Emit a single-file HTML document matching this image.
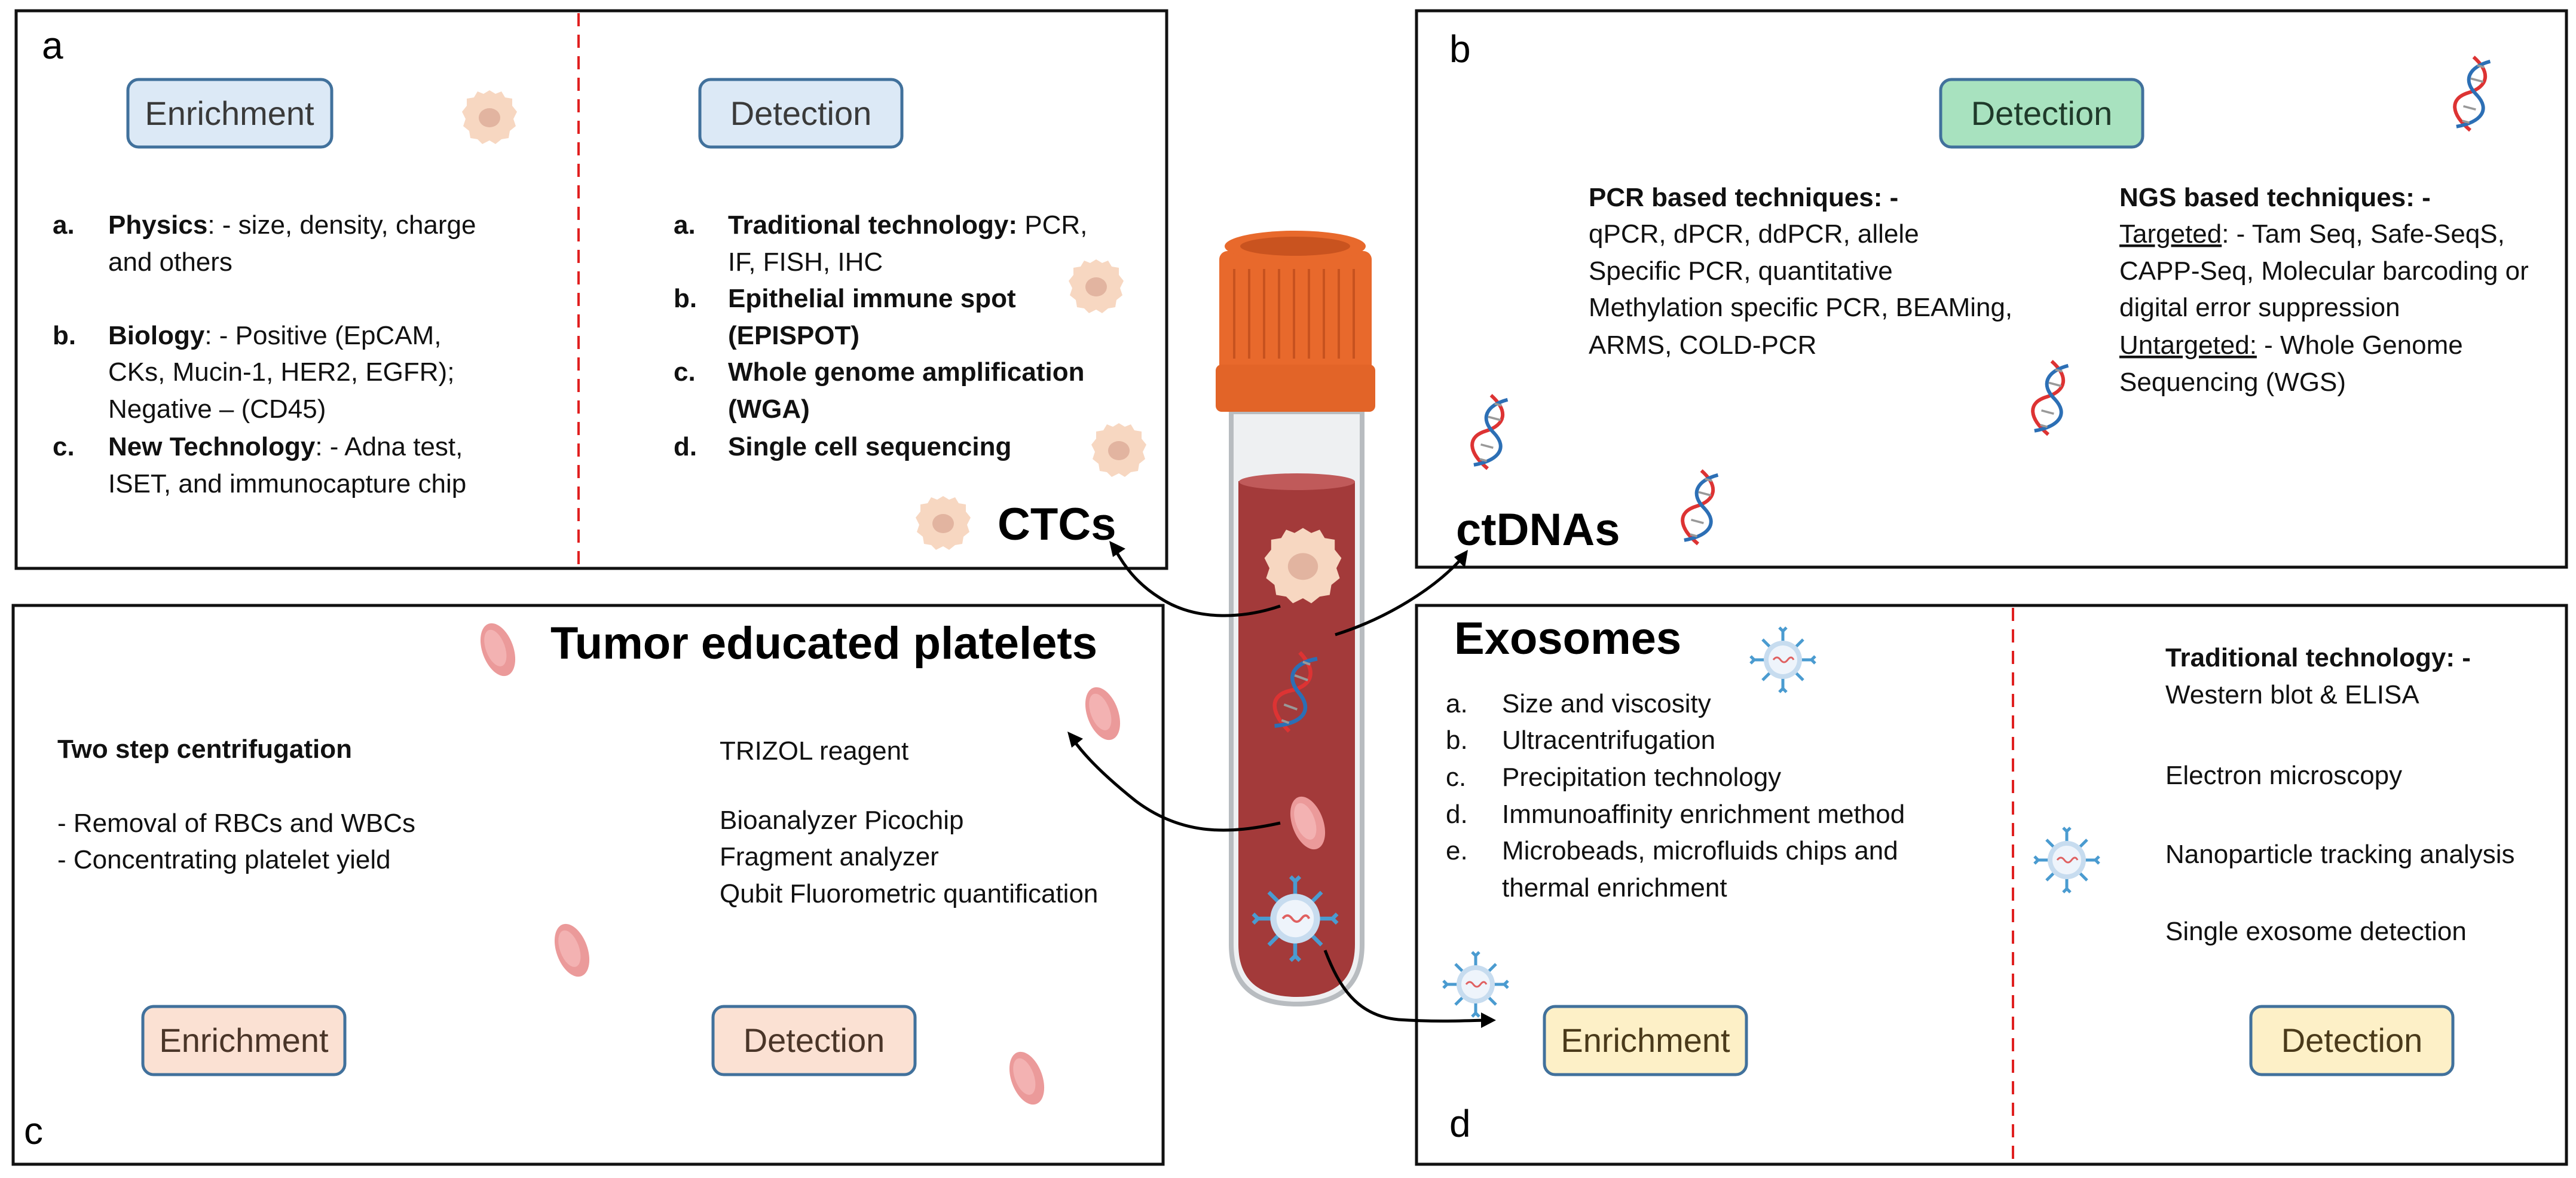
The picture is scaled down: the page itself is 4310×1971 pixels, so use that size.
<!DOCTYPE html>
<html><head><meta charset="utf-8"><style>
html,body{margin:0;padding:0;background:#fff;}
svg{display:block;}
text{font-family:"Liberation Sans",sans-serif;fill:#111;}
.t{font-size:44px;}
.b{font-weight:bold;}
.btn{font-size:56px;fill:#3a3a3a;}
.big{font-size:76px;font-weight:bold;fill:#000;}
.lab{font-size:64px;fill:#000;}
</style></head><body>
<svg width="4310" height="1971" viewBox="0 0 4310 1971" xmlns="http://www.w3.org/2000/svg">
<defs>
<g id="cell"><path d="M0,-44 L10,-38 L20,-42 L26,-32 L38,-30 L38,-18 L46,-8 L40,4 L44,16 L34,24 L32,36 L20,38 L10,46 L0,40 L-12,46 L-20,38 L-32,36 L-34,24 L-44,16 L-40,4 L-46,-8 L-38,-18 L-38,-30 L-26,-32 L-20,-42 L-10,-38 Z" fill="#f7d7c1"/><ellipse cx="0" cy="2" rx="18" ry="16" fill="#e2b4a0"/></g>
<g id="plt"><ellipse cx="0" cy="0" rx="26" ry="46" fill="#eb9a9a" transform="rotate(-20)"/><ellipse cx="-3" cy="-4" rx="16" ry="32" fill="#f3b2b2" transform="rotate(-20)"/></g>
<g id="dna0" fill="none" stroke-width="5"><path d="M-12,-50 C18,-35 18,-15 -6,0 C-30,15 -22,35 10,50" stroke="#d33"/><path d="M12,-50 C-14,-35 -20,-15 6,0 C30,15 22,35 -10,50" stroke="#2c6fb5"/><path d="M-4,-40 L6,-40 M-8,-20 L10,-20 M-8,20 L10,20 M-4,40 L6,40" stroke="#999" stroke-width="3"/></g>
<g id="dna"><use href="#dna0" transform="scale(1.2) rotate(15)"/></g>
<g id="exo"><g stroke="#4a9bd0" stroke-width="5" fill="none"><path d="M0,-30 L0,-48 M-6,-54 L0,-48 L6,-54 M30,0 L48,0 M54,-6 L48,0 L54,6 M0,30 L0,48 M-6,54 L0,48 L6,54 M-30,0 L-48,0 M-54,-6 L-48,0 L-54,6 M21,-21 L34,-34 M21,21 L34,34 M-21,21 L-34,34 M-21,-21 L-34,-34"/></g><circle r="32" fill="#c7dcef"/><circle r="24" fill="#eef4fb"/><path d="M-16,0 q6,-8 12,0 t12,0 t10,0" stroke="#e06060" stroke-width="3" fill="none"/></g>
</defs>

<g fill="none" stroke="#111" stroke-width="5">
<rect x="27" y="18" width="1925" height="933"/>
<rect x="2370" y="18" width="1924" height="931"/>
<rect x="22" y="1013" width="1924" height="935"/>
<rect x="2370" y="1013" width="1924" height="935"/>
</g>
<g stroke="#e02020" stroke-width="4" stroke-dasharray="22,14">
<line x1="968" y1="22" x2="968" y2="948"/>
<line x1="3368" y1="1017" x2="3368" y2="1945"/>
</g>

<g stroke="#41719c" stroke-width="5">
<rect x="214" y="133" width="341" height="113" rx="18" fill="#dce9f6"/>
<rect x="1171" y="133" width="338" height="113" rx="18" fill="#dce9f6"/>
<rect x="3247" y="133" width="338" height="113" rx="18" fill="#a8e2bf"/>
<rect x="239" y="1684" width="338" height="114" rx="18" fill="#fbe1d3"/>
<rect x="1193" y="1684" width="338" height="114" rx="18" fill="#fbe1d3"/>
<rect x="2584" y="1684" width="338" height="114" rx="18" fill="#fdf0c7"/>
<rect x="3766" y="1684" width="338" height="114" rx="18" fill="#fdf0c7"/>
</g>
<g text-anchor="middle">
<text x="384" y="209" class="btn">Enrichment</text>
<text x="1340" y="209" class="btn">Detection</text>
<text x="3416" y="209" class="btn" style="fill:#1f3a2a">Detection</text>
<text x="408" y="1760" class="btn" style="fill:#4a3528">Enrichment</text>
<text x="1362" y="1760" class="btn" style="fill:#4a3528">Detection</text>
<text x="2753" y="1760" class="btn" style="fill:#4a3a1a">Enrichment</text>
<text x="3935" y="1760" class="btn" style="fill:#4a3a1a">Detection</text>
</g>

<text x="70" y="98" class="lab">a</text>
<text x="2425" y="104" class="lab">b</text>
<text x="40" y="1914" class="lab">c</text>
<text x="2425" y="1902" class="lab">d</text>

<g class="t">
<text x="88" y="391" class="b">a.</text><text x="181" y="391"><tspan class="b">Physics</tspan>: - size, density, charge</text>
<text x="181" y="453">and others</text>
<text x="88" y="576" class="b">b.</text><text x="181" y="576"><tspan class="b">Biology</tspan>: - Positive (EpCAM,</text>
<text x="181" y="637">CKs, Mucin-1, HER2, EGFR);</text>
<text x="181" y="699">Negative – (CD45)</text>
<text x="88" y="762" class="b">c.</text><text x="181" y="762"><tspan class="b">New Technology</tspan>: - Adna test,</text>
<text x="181" y="824">ISET, and immunocapture chip</text>

<text x="1127" y="391" class="b">a.</text><text x="1218" y="391"><tspan class="b">Traditional technology:</tspan> PCR,</text>
<text x="1218" y="453">IF, FISH, IHC</text>
<text x="1127" y="514" class="b">b.</text><text x="1218" y="514" class="b">Epithelial immune spot</text>
<text x="1218" y="576" class="b">(EPISPOT)</text>
<text x="1127" y="637" class="b">c.</text><text x="1218" y="637" class="b">Whole genome amplification</text>
<text x="1218" y="699" class="b">(WGA)</text>
<text x="1127" y="762" class="b">d.</text><text x="1218" y="762" class="b">Single cell sequencing</text>

<text x="2658" y="345" class="b">PCR based techniques: -</text>
<text x="2658" y="406">qPCR, dPCR, ddPCR, allele</text>
<text x="2658" y="468">Specific PCR, quantitative</text>
<text x="2658" y="529">Methylation specific PCR, BEAMing,</text>
<text x="2658" y="592">ARMS, COLD-PCR</text>
<text x="3546" y="345" class="b">NGS based techniques: -</text>
<text x="3546" y="406"><tspan text-decoration="underline">Targeted</tspan>: - Tam Seq, Safe-SeqS,</text>
<text x="3546" y="468">CAPP-Seq, Molecular barcoding or</text>
<text x="3546" y="529">digital error suppression</text>
<text x="3546" y="592"><tspan text-decoration="underline">Untargeted:</tspan> - Whole Genome</text>
<text x="3546" y="654">Sequencing (WGS)</text>

<text x="96" y="1268" class="b">Two step centrifugation</text>
<text x="96" y="1392">- Removal of RBCs and WBCs</text>
<text x="96" y="1453">- Concentrating platelet yield</text>
<text x="1204" y="1271">TRIZOL reagent</text>
<text x="1204" y="1387">Bioanalyzer Picochip</text>
<text x="1204" y="1448">Fragment analyzer</text>
<text x="1204" y="1510">Qubit Fluorometric quantification</text>

<text x="2419" y="1192">a.</text><text x="2513" y="1192">Size and viscosity</text>
<text x="2419" y="1253">b.</text><text x="2513" y="1253">Ultracentrifugation</text>
<text x="2419" y="1315">c.</text><text x="2513" y="1315">Precipitation technology</text>
<text x="2419" y="1377">d.</text><text x="2513" y="1377">Immunoaffinity enrichment method</text>
<text x="2419" y="1438">e.</text><text x="2513" y="1438">Microbeads, microfluids chips and</text>
<text x="2513" y="1500">thermal enrichment</text>
<text x="3623" y="1115" class="b">Traditional technology: -</text>
<text x="3623" y="1177">Western blot &amp; ELISA</text>
<text x="3623" y="1312">Electron microscopy</text>
<text x="3623" y="1444">Nanoparticle tracking analysis</text>
<text x="3623" y="1573">Single exosome detection</text>
</g>

<text x="1669" y="903" class="big">CTCs</text>
<text x="2436" y="912" class="big">ctDNAs</text>
<text x="921" y="1102" class="big">Tumor educated platelets</text>
<text x="2433" y="1094" class="big">Exosomes</text>

<use href="#cell" x="819" y="195"/>
<use href="#cell" x="1834" y="478"/>
<use href="#cell" x="1872" y="752"/>
<use href="#cell" x="1578" y="874"/>
<use href="#dna" x="4137" y="157"/>
<use href="#dna" x="3431" y="666"/>
<use href="#dna" x="2493" y="723"/>
<use href="#dna" x="2845" y="849"/>
<use href="#plt" x="833" y="1087"/>
<use href="#plt" x="1845" y="1194"/>
<use href="#plt" x="957" y="1590"/>
<use href="#plt" x="1718" y="1804"/>
<use href="#exo" x="2983" y="1104"/>
<use href="#exo" x="3458" y="1439"/>
<use href="#exo" x="2469" y="1647"/>

<path d="M2060,689 L2060,1580 Q2060,1680 2170,1680 Q2279,1680 2279,1580 L2279,689 Z" fill="#eef0f2" stroke="#b8bcc0" stroke-width="8"/>
<path d="M2072,805 L2072,1580 Q2072,1668 2170,1668 Q2267,1668 2267,1580 L2267,805 Z" fill="#a33a3a"/>
<ellipse cx="2170" cy="806" rx="97" ry="14" fill="#c05a5a"/>
<rect x="2040" y="420" width="255" height="269" rx="14" fill="#e8692c"/>
<g stroke="#c7521f" stroke-width="4">
<line x1="2065" y1="450" x2="2065" y2="600"/><line x1="2090" y1="450" x2="2090" y2="600"/><line x1="2115" y1="450" x2="2115" y2="600"/><line x1="2140" y1="450" x2="2140" y2="600"/><line x1="2165" y1="450" x2="2165" y2="600"/><line x1="2190" y1="450" x2="2190" y2="600"/><line x1="2215" y1="450" x2="2215" y2="600"/><line x1="2240" y1="450" x2="2240" y2="600"/><line x1="2265" y1="450" x2="2265" y2="600"/>
</g>
<rect x="2034" y="610" width="267" height="79" rx="10" fill="#e26428"/>
<ellipse cx="2167" cy="412" rx="118" ry="26" fill="#e8692c"/>
<ellipse cx="2167" cy="412" rx="92" ry="16" fill="#c9531f"/>
<use href="#cell" transform="translate(2180,945) scale(1.4)"/>
<use href="#dna0" transform="translate(2167,1158) scale(1.3) rotate(20)"/>
<use href="#plt" x="2188" y="1377"/>
<use href="#exo" transform="translate(2167,1537) scale(1.3)"/>

<g fill="none" stroke="#000" stroke-width="5">
<path d="M2142,1014 C2080,1035 2000,1040 1940,1000 C1900,975 1880,945 1866,920"/>
<path d="M2234,1062 C2320,1035 2400,985 2446,934"/>
<path d="M2142,1377 C2060,1395 1980,1400 1900,1340 C1850,1300 1815,1265 1796,1238"/>
<path d="M2217,1590 C2240,1650 2270,1700 2340,1706 C2400,1710 2450,1708 2485,1707"/>
</g>
<g fill="#000">
<polygon points="1856,905 1883,918 1862,932"/>
<polygon points="2456,920 2451,950 2433,932"/>
<polygon points="1786,1224 1812,1236 1793,1251"/>
<polygon points="2503,1707 2478,1694 2478,1720"/>
</g>
</svg>
</body></html>
